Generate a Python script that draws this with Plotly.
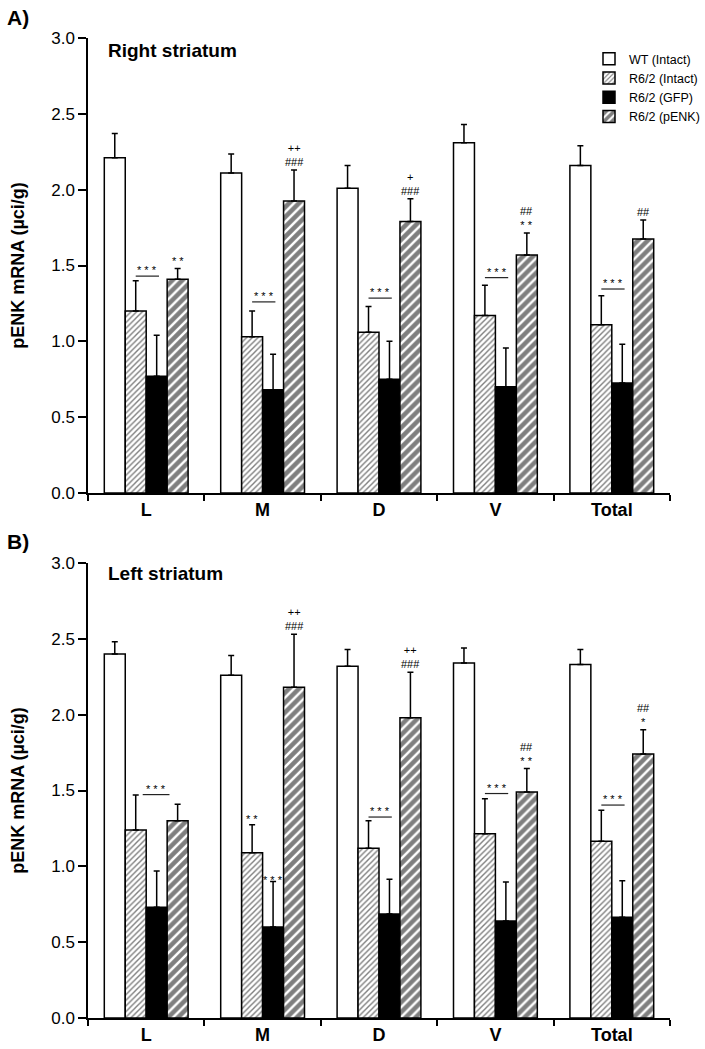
import plotly.graph_objects as go

# data
categories = ["L", "M", "D", "V", "Total"]
groups = ["WT (Intact)", "R6/2 (Intact)", "R6/2 (GFP)", "R6/2 (pENK)"]

# right striatum (panel A)
wt_right = [2.21, 2.11, 2.01, 2.31, 2.16]
wt_right_err = [0.16, 0.125, 0.15, 0.12, 0.13]
intact_right = [1.20, 1.03, 1.06, 1.17, 1.11]
intact_right_err = [0.20, 0.17, 0.17, 0.20, 0.19]
gfp_right = [0.77, 0.68, 0.75, 0.70, 0.725]
gfp_right_err = [0.27, 0.235, 0.25, 0.256, 0.255]
penk_right = [1.41, 1.925, 1.79, 1.57, 1.675]
penk_right_err = [0.07, 0.205, 0.15, 0.145, 0.125]

# left striatum (panel B)
wt_left = [2.40, 2.26, 2.32, 2.34, 2.33]
wt_left_err = [0.08, 0.13, 0.11, 0.10, 0.10]
intact_left = [1.24, 1.09, 1.12, 1.215, 1.165]
intact_left_err = [0.23, 0.185, 0.18, 0.23, 0.205]
gfp_left = [0.73, 0.60, 0.685, 0.64, 0.665]
gfp_left_err = [0.24, 0.30, 0.23, 0.256, 0.24]
penk_left = [1.30, 2.18, 1.98, 1.49, 1.74]
penk_left_err = [0.11, 0.35, 0.30, 0.155, 0.16]

# significance bars (R6/2 intact vs GFP) and marks above pENK bars
sig_right = [1.43, 1.26, 1.285, 1.42, 1.345]
sig_left = [1.473, None, 1.325, 1.48, 1.404]
penk_marks_right = ["* *", "++<br>###", "+<br>###", "##<br>* *", "##"]
penk_marks_left = ["", "++<br>###", "++<br>###", "##<br>* *", "##<br>*"]

W, H = 705, 1049
L, R, T, B = 88, 35, 38, 31
PW, PH = W - L - R, H - T - B

def px(x):
    return (x - L) / PW

def py(y):
    return (H - B - y) / PH

styles = [
    dict(color="white", pattern=dict(shape="")),
    dict(color="white", pattern=dict(shape="/", size=4, solidity=0.35, fgcolor="black", bgcolor="white")),
    dict(color="black", pattern=dict(shape="")),
    dict(color="white", pattern=dict(shape="/", size=7, solidity=0.65, fgcolor="black", bgcolor="white")),
]

panels = [
    ("x", "y", [wt_right, intact_right, gfp_right, penk_right],
     [wt_right_err, intact_right_err, gfp_right_err, penk_right_err], True),
    ("x2", "y2", [wt_left, intact_left, gfp_left, penk_left],
     [wt_left_err, intact_left_err, gfp_left_err, penk_left_err], False),
]

fig = go.Figure()
for xa, ya, vals, errs, show in panels:
    for name, v, e, st in zip(groups, vals, errs, styles):
        fig.add_trace(go.Bar(
            x=categories, y=v, name=name, xaxis=xa, yaxis=ya,
            showlegend=show, legendgroup=name,
            marker=dict(color=st["color"], pattern=st["pattern"],
                        line=dict(color="black", width=1.5)),
            error_y=dict(type="data", array=e, arrayminus=[0] * len(e),
                         symmetric=False, color="black", thickness=1.5, width=3),
        ))

offsets = [-0.27, -0.09, 0.09, 0.27]
ann = []
shapes = []
small = dict(family="Liberation Sans, Arial", size=11, color="black")

for xa, ya, vals, errs, sig, marks in [
    ("x", "y", panels[0][2], panels[0][3], sig_right, penk_marks_right),
    ("x2", "y2", panels[1][2], panels[1][3], sig_left, penk_marks_left),
]:
    for i, s in enumerate(sig):
        if s is None:
            continue
        a, b = (i - 0.03, i + 0.20) if (xa == "x2" and i == 0) else (i - 0.09, i + 0.11)
        shapes.append(dict(type="line", xref=xa, yref=ya, x0=a, x1=b, y0=s, y1=s,
                           line=dict(color="#222", width=1.2)))
        ann.append(dict(x=(a + b) / 2, y=s, xref=xa, yref=ya, text="* * *", showarrow=False,
                        yanchor="bottom", yshift=-2, font=small))
    for i, m in enumerate(marks):
        if not m:
            continue
        top = vals[3][i] + errs[3][i]
        ann.append(dict(x=i + offsets[3], y=top, xref=xa, yref=ya, text=m, showarrow=False,
                        yanchor="bottom", yshift=0, font=small))

# extra marks in left panel, M group
ann.append(dict(x=1 + offsets[1], y=intact_left[1] + intact_left_err[1], xref="x2", yref="y2",
                text="* *", showarrow=False, yanchor="bottom", yshift=-2, font=small))
ann.append(dict(x=1 + offsets[2], y=gfp_left[1] + gfp_left_err[1], xref="x2", yref="y2",
                text="* * *", showarrow=False, yanchor="bottom", yshift=-6, font=small))

bold = dict(family="Liberation Sans, Arial", size=20, color="black", weight="bold")
ann += [
    dict(x=px(5), y=py(17), xref="paper", yref="paper", text="A)", showarrow=False,
         xanchor="left", yanchor="middle", font=dict(bold, size=21)),
    dict(x=px(5), y=py(541), xref="paper", yref="paper", text="B)", showarrow=False,
         xanchor="left", yanchor="middle", font=dict(bold, size=21)),
    dict(x=px(106), y=py(50), xref="paper", yref="paper", text="Right striatum", showarrow=False,
         xanchor="left", yanchor="middle", font=dict(bold, size=19)),
    dict(x=px(106), y=py(573), xref="paper", yref="paper", text="Left striatum", showarrow=False,
         xanchor="left", yanchor="middle", font=dict(bold, size=19)),
]

top_dom = [py(493), py(38)]
bot_dom = [py(1018), py(563)]

xax = dict(type="category", range=[-0.5, 4.5], showline=True, linecolor="black", linewidth=1.5,
           ticks="outside", ticklen=6, tickwidth=1.5, tickcolor="black", tickson="boundaries",
           tickfont=dict(family="Liberation Sans, Arial", size=18, color="black", weight="bold"),
           showgrid=False, zeroline=False, fixedrange=True, automargin=False)
yax = dict(range=[0, 3], tickvals=[0, 0.5, 1, 1.5, 2, 2.5, 3], tickformat=".1f",
           showline=True, linecolor="black", linewidth=1.5, ticks="outside", ticklen=8,
           tickwidth=1.5, tickcolor="black", showgrid=False, zeroline=False, automargin=False,
           tickfont=dict(family="Liberation Sans, Arial", size=17, color="black"),
           title=dict(text="pENK mRNA (µci/g)", standoff=22,
                      font=dict(family="Liberation Sans, Arial", size=18, color="black", weight="bold")))

fig.update_layout(
    width=W, height=H,
    margin=dict(l=L, r=R, t=T, b=B, autoexpand=False),
    paper_bgcolor="white", plot_bgcolor="white",
    barmode="group", bargap=0.28, bargroupgap=0,
    xaxis=dict(xax, domain=[0, 1], anchor="y"),
    yaxis=dict(yax, domain=top_dom, anchor="x"),
    xaxis2=dict(xax, domain=[0, 1], anchor="y2"),
    yaxis2=dict(yax, domain=bot_dom, anchor="x2"),
    legend=dict(x=px(589), y=py(44), xanchor="left", yanchor="top",
                font=dict(family="Liberation Sans, Arial", size=12.5, color="black"),
                bgcolor="rgba(0,0,0,0)", tracegroupgap=0, itemwidth=30, traceorder="normal"),
    annotations=ann,
    shapes=shapes,
    showlegend=True,
)

# drop the browser's default 8px body margin so the figure sits at the page corner
fig.write_html("out.html", config={"displayModeBar": False},
               post_script="document.body.style.margin='0';")
